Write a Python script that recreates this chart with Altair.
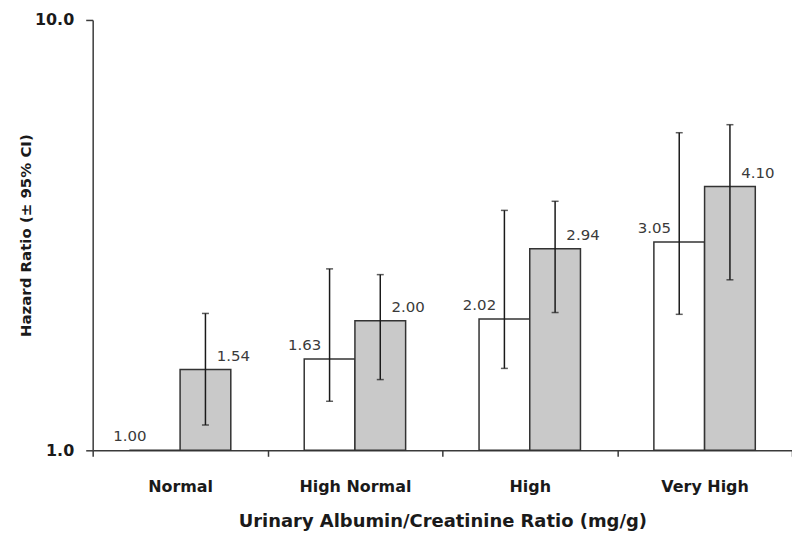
import altair as alt
import pandas as pd

# ---- data ----
categories = ["Normal", "High Normal", "High", "Very High"]
series_names = ["A", "B"]
hr_white = [1.00, 1.63, 2.02, 3.05]
hr_gray = [1.54, 2.00, 2.94, 4.10]
lo_white = [None, 1.30, 1.55, 2.07]
hi_white = [None, 2.64, 3.61, 5.47]
lo_gray = [1.145, 1.46, 2.09, 2.49]
hi_gray = [2.08, 2.56, 3.79, 5.71]

rows = []
for i, c in enumerate(categories):
    rows.append({"cat": c, "series": "A", "hr": hr_white[i], "lo": lo_white[i], "hi": hi_white[i], "base": 1.0})
    rows.append({"cat": c, "series": "B", "hr": hr_gray[i], "lo": lo_gray[i], "hi": hi_gray[i], "base": 1.0})
df = pd.DataFrame(rows)

FONT = "DejaVu Sans"

x_enc = alt.X(
    "cat:N",
    sort=categories,
    scale=alt.Scale(paddingInner=0, paddingOuter=0),
    axis=alt.Axis(
        title="Urinary Albumin/Creatinine Ratio (mg/g)",
        labelAngle=0,
        tickBand="extent",
        tickSize=6,
        labelPadding=22,
        titlePadding=18,
    ),
)
xoff_enc = alt.XOffset(
    "series:N", sort=series_names, scale=alt.Scale(paddingInner=0, paddingOuter=0.724)
)
y_scale = alt.Scale(type="log", domain=[1, 10], nice=False)
y_axis = alt.Axis(
    title="Hazard Ratio (± 95% CI)",
    values=[1, 10],
    format=".1f",
    tickSize=7,
    labelPadding=12,
    titlePadding=1,
    grid=False,
)

base = alt.Chart(df)

bars = base.mark_bar(stroke="#333333", strokeWidth=1.5).encode(
    x=x_enc,
    xOffset=xoff_enc,
    y=alt.Y("hr:Q", scale=y_scale, axis=y_axis),
    y2=alt.Y2("base:Q"),
    color=alt.Color(
        "series:N",
        scale=alt.Scale(domain=series_names, range=["#ffffff", "#c9c9c9"]),
        legend=None,
    ),
)

err = base.transform_filter("isValid(datum.lo)")

rules = err.mark_rule(color="#1a1a1a", strokeWidth=1.5).encode(
    x=x_enc,
    xOffset=xoff_enc,
    y=alt.Y("lo:Q", scale=y_scale, axis=y_axis),
    y2=alt.Y2("hi:Q"),
)

cap_lo = err.mark_tick(color="#1a1a1a", thickness=1.5, size=7, orient="horizontal").encode(
    x=x_enc,
    xOffset=xoff_enc,
    y=alt.Y("lo:Q", scale=y_scale, axis=y_axis),
)
cap_hi = err.mark_tick(color="#1a1a1a", thickness=1.5, size=7, orient="horizontal").encode(
    x=x_enc,
    xOffset=xoff_enc,
    y=alt.Y("hi:Q", scale=y_scale, axis=y_axis),
)

text_white = base.transform_filter("datum.series == 'A'").mark_text(
    font=FONT, fontSize=15, color="#3a3a3a", baseline="alphabetic", align="center", dx=-25, dy=-9
).encode(
    x=x_enc,
    xOffset=xoff_enc,
    y=alt.Y("hr:Q", scale=y_scale, axis=y_axis),
    text=alt.Text("hr:Q", format=".2f"),
)
text_gray = base.transform_filter("datum.series == 'B'").mark_text(
    font=FONT, fontSize=15, color="#3a3a3a", baseline="alphabetic", align="center", dx=28, dy=-9
).encode(
    x=x_enc,
    xOffset=xoff_enc,
    y=alt.Y("hr:Q", scale=y_scale, axis=y_axis),
    text=alt.Text("hr:Q", format=".2f"),
)

chart = (
    alt.layer(bars, rules, cap_lo, cap_hi, text_white, text_gray)
    .properties(
        width=702,
        height=432,
        padding={"left": 85, "top": 11, "right": 0, "bottom": 81},
        autosize=alt.AutoSizeParams(type="none"),
        background="white",
    )
    .configure_view(stroke=None)
    .configure_axis(
        domainColor="#3a3a3a",
        domainWidth=1.5,
        tickColor="#3a3a3a",
        tickWidth=1.5,
        labelFont=FONT,
        labelFontSize=16,
        labelFontWeight="bold",
        labelColor="#1a1a1a",
        titleFont=FONT,
        titleFontWeight="bold",
        titleColor="#1a1a1a",
    )
    .configure_axisX(titleFontSize=18)
    .configure_axisY(titleFontSize=15)
)

chart.save("out.html", embed_options={"renderer": "svg", "actions": False})
